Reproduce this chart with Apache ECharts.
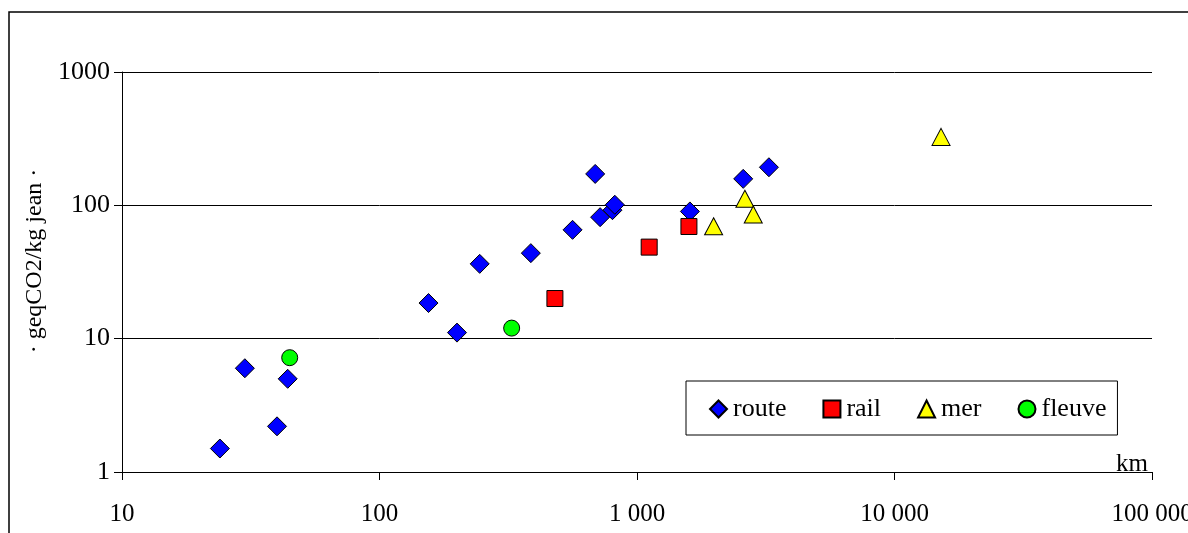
<!DOCTYPE html>
<html>
<head>
<meta charset="utf-8">
<script src="https://cdn.jsdelivr.net/npm/echarts@6/dist/echarts.min.js"></script>
<style>
  html, body { margin: 0; padding: 0; background: #fff; }
  #chart { width: 1188px; height: 533px; }
</style>
</head>
<body>
<div id="chart"></div>
<script>
// Distance travelled (km) and emissions (geqCO2 per kg of jeans), by mode
const seriesNames = ['route', 'rail', 'mer', 'fleuve'];

const routeKm  = [24, 30, 40, 44, 155, 200, 245, 387, 562, 688, 719, 803, 820, 1605, 2585, 3253];
const routeCo2 = [1.5, 6, 2.2, 5, 18.5, 11.1, 36.4, 43.8, 65.5, 172, 81.5, 92, 101, 90, 158, 193];

const railKm  = [480, 1115, 1591];
const railCo2 = [20, 48.6, 69.4];

const merKm  = [1984, 2624, 2828, 15160];
const merCo2 = [69.6, 112, 85.3, 326];

const fleuveKm  = [44.8, 326];
const fleuveCo2 = [7.2, 12];

const xTicks = [10, 100, 1000, 10000, 100000];
const yTicks = [1, 10, 100, 1000];

const pairs = (xs, ys) => xs.map((x, i) => [x, ys[i]]);

// Thousands grouped with a space, as in French notation
const groupThousands = v => String(Math.round(v)).replace(/\B(?=(\d{3})+(?!\d))/g, ' ');

const serif = '"Liberation Serif", "DejaVu Serif", serif';
const markStyle = color => ({ color: color, borderColor: '#000', borderWidth: 1, opacity: 1 });

const chart = echarts.init(document.getElementById('chart'), null, { renderer: 'canvas' });

chart.setOption({
  animation: false,
  backgroundColor: '#fff',
  textStyle: { fontFamily: serif, color: '#000' },
  graphic: [{
    type: 'rect',
    shape: { x: 9, y: 12, width: 1300, height: 700 },
    style: { fill: 'none', stroke: '#000', lineWidth: 1.5 },
    silent: true
  }],
  grid: {
    left: 122, right: 36, top: 72, bottom: 61,
    containLabel: false,
    outerBoundsMode: 'none'
  },
  legend: {
    data: seriesNames,
    left: 686,
    top: 381,
    orient: 'horizontal',
    itemWidth: 17,
    itemHeight: 17,
    itemGap: 36,
    padding: [15, 11, 13, 23],
    borderColor: '#000',
    borderWidth: 1,
    backgroundColor: '#fff',
    textStyle: { fontFamily: serif, fontSize: 26, color: '#000', lineHeight: 26, padding: [0, 0, 0, 1] }
  },
  xAxis: {
    type: 'log',
    logBase: 10,
    min: xTicks[0],
    max: xTicks[xTicks.length - 1],
    name: 'km',
    nameLocation: 'end',
    nameGap: -4,
    nameTextStyle: {
      fontFamily: serif, fontSize: 25, color: '#000',
      align: 'right', verticalAlign: 'bottom', lineHeight: 16
    },
    axisLine: { show: true, lineStyle: { color: '#000', width: 1 } },
    axisTick: { show: true, length: 8, lineStyle: { color: '#000' } },
    minorTick: { show: false },
    splitLine: { show: false },
    axisLabel: {
      margin: 30,
      fontFamily: serif, fontSize: 25, color: '#000',
      formatter: v => groupThousands(v)
    }
  },
  yAxis: {
    type: 'log',
    logBase: 10,
    min: yTicks[0],
    max: yTicks[yTicks.length - 1],
    name: '· geqCO2/kg jean ·',
    nameLocation: 'middle',
    nameRotate: 90,
    nameGap: 74,
    nameTextStyle: {
      fontFamily: serif, fontSize: 24, color: '#000',
      padding: [0, 0, 0, 22]
    },
    axisLine: { show: true, lineStyle: { color: '#000', width: 1 } },
    axisTick: { show: true, length: 8, lineStyle: { color: '#000' } },
    splitLine: { show: true, lineStyle: { color: '#000', width: 1 } },
    axisLabel: {
      margin: 12,
      fontFamily: serif, fontSize: 26, color: '#000',
      formatter: v => String(Math.round(v))
    }
  },
  series: [
    {
      name: 'route', type: 'scatter', symbol: 'diamond', symbolSize: 19,
      itemStyle: markStyle('#0000ff'),
      data: pairs(routeKm, routeCo2)
    },
    {
      name: 'rail', type: 'scatter', symbol: 'rect', symbolSize: 16,
      itemStyle: markStyle('#ff0000'),
      data: pairs(railKm, railCo2)
    },
    {
      name: 'mer', type: 'scatter', symbol: 'triangle', symbolSize: [18, 17],
      itemStyle: markStyle('#ffff00'),
      data: pairs(merKm, merCo2)
    },
    {
      name: 'fleuve', type: 'scatter', symbol: 'circle', symbolSize: 16,
      itemStyle: markStyle('#00ff00'),
      data: pairs(fleuveKm, fleuveCo2)
    }
  ]
});
</script>
</body>
</html>
